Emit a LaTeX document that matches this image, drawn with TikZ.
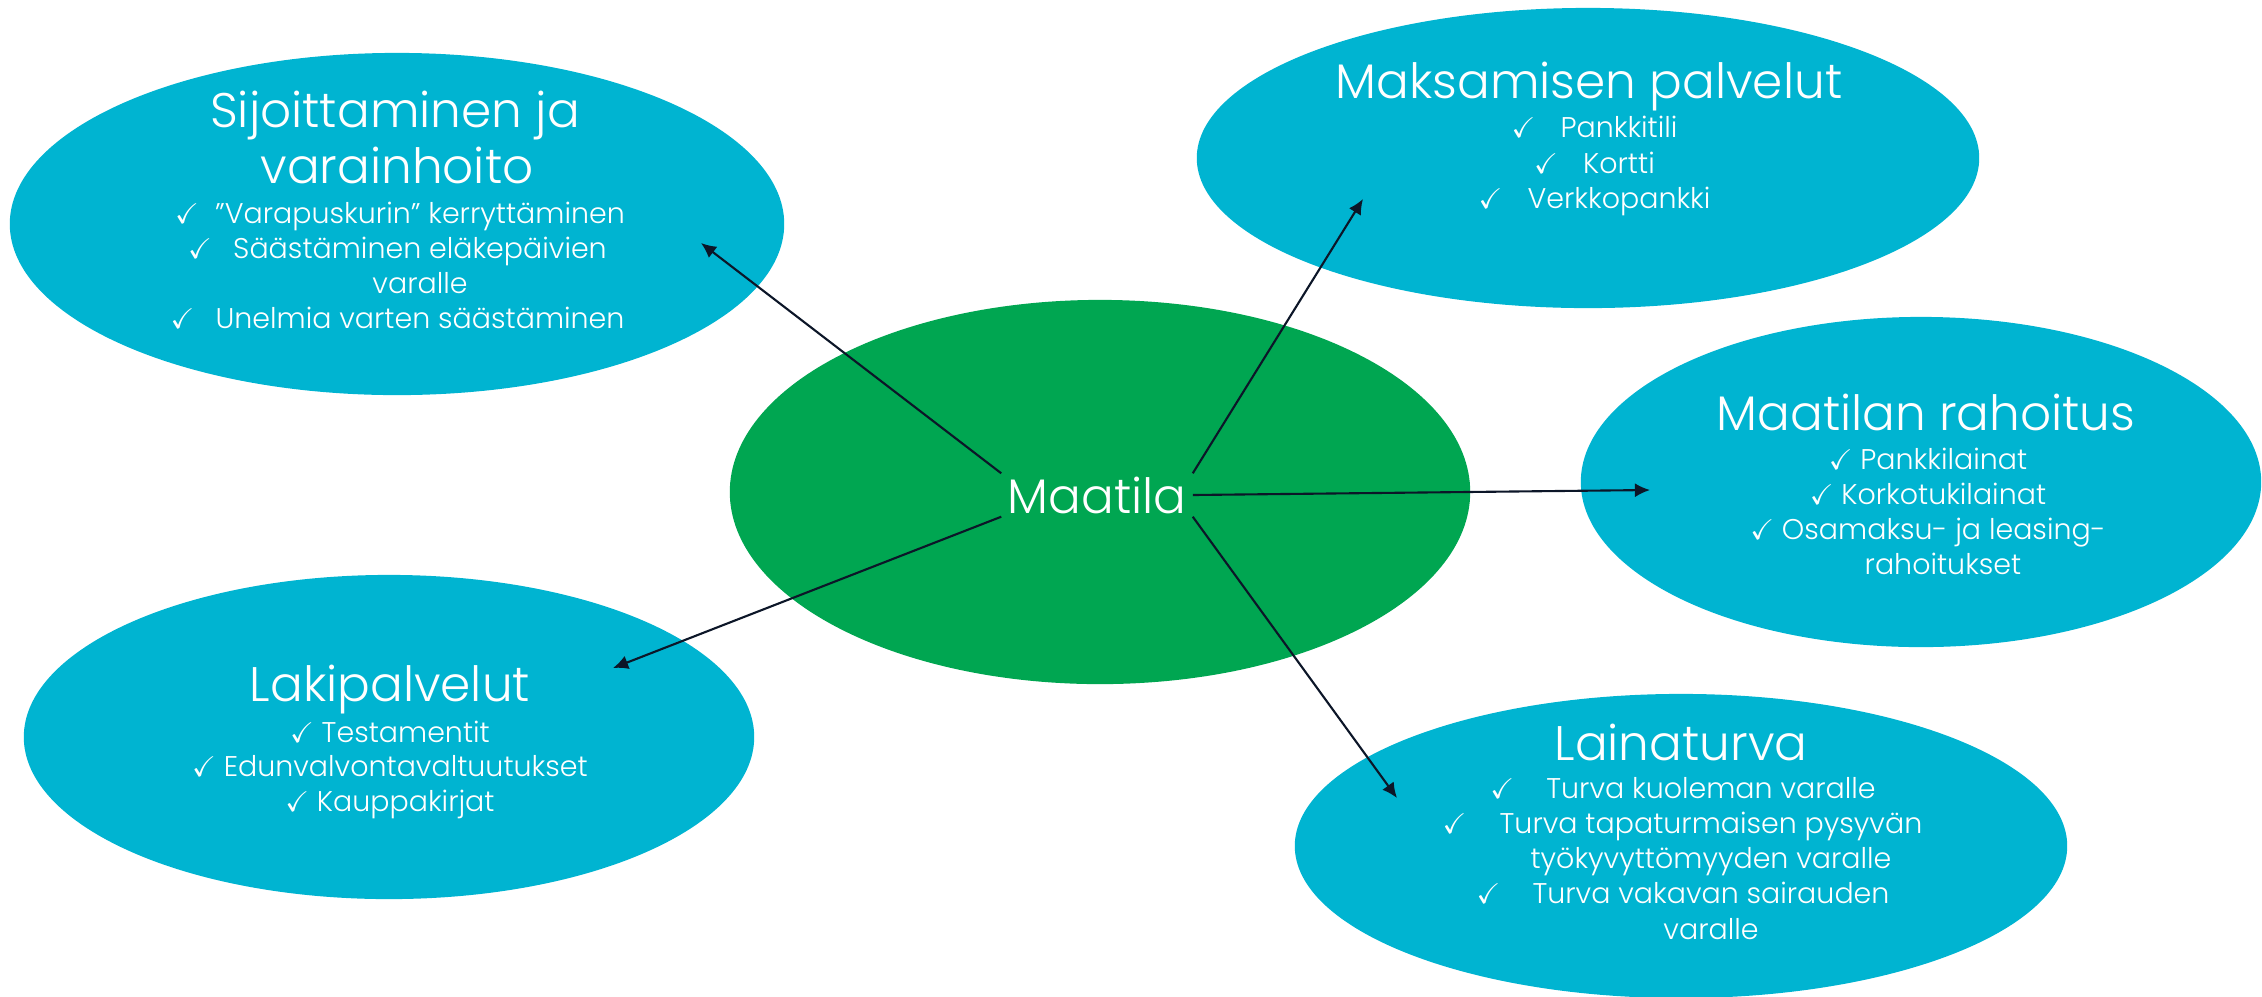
\documentclass[tikz,border=0pt]{standalone}
\usepackage{fontspec}
\usepackage{amssymb}
\setmainfont{Poppins Light}
\usetikzlibrary{arrows.meta,shapes.geometric}
\definecolor{cyanbg}{RGB}{0,180,209}
\definecolor{greenbg}{RGB}{0,166,81}
\definecolor{arrowc}{RGB}{12,22,40}
\newcommand{\hck}[1]{\llap{\makebox[#1][l]{$\checkmark$}}}
\newcommand{\ck}{$\checkmark$\ }
\begin{document}
\begin{tikzpicture}[x=0.01cm,y=-0.01cm,
  bubble/.style={ellipse, fill=cyanbg, inner sep=0pt},
  hub/.style={ellipse, fill=greenbg, inner sep=0pt},
  ttl/.style={anchor=base, text=white, font=\fontsize{13.8}{16}\selectfont, inner sep=0pt},
  itm/.style={anchor=base, text=white, font=\fontsize{8.1}{10}\selectfont, inner sep=0pt},
  conn/.style={draw=arrowc, line width=0.6pt, -{Latex[length=4.3pt,width=4pt]}}]
\useasboundingbox (0,0) rectangle (2262,996);
\clip (0,0) rectangle (2262,996);
% ellipses
\node[bubble, minimum width=7.74cm, minimum height=3.42cm] (sij) at (397,224) {};
\node[bubble, minimum width=7.82cm, minimum height=3.00cm] (mak) at (1588,158) {};
\node[bubble, minimum width=6.80cm, minimum height=3.30cm] (raho) at (1921,482) {};
\node[bubble, minimum width=7.30cm, minimum height=3.24cm] (laki) at (389,737) {};
\node[bubble, minimum width=7.72cm, minimum height=3.04cm] (laina) at (1681,846) {};
\node[hub, minimum width=7.40cm, minimum height=3.84cm] (hubell) at (1100,492) {};
% Sijoittaminen
\node[ttl] (sijt1) at (395,127) {Sijoittaminen ja};
\node[ttl] (sijt2) at (397,183) {varainhoito};
\node[itm] (sij1) at (420,223) {\hck{0.40cm}”Varapuskurin” kerryttäminen};
\node[itm] (sij2) at (420,258) {\hck{0.45cm}Säästäminen eläkepäivien};
\node[itm] (sij3) at (420,293) {varalle};
\node[itm] (sij4) at (420,328) {\hck{0.45cm}Unelmia varten säästäminen};
% Maksamisen palvelut
\node[ttl] (makt) at (1589,98) {Maksamisen palvelut};
\node[itm] (mak1) at (1619,137) {\hck{0.49cm}Pankkitili};
\node[itm] (mak2) at (1619,173) {\hck{0.49cm}Kortti};
\node[itm] (mak3) at (1619,208) {\hck{0.49cm}Verkkopankki};
% Maatilan rahoitus
\node[ttl] (rahot) at (1926,430) {Maatilan rahoitus};
\node[itm] (raho1) at (1928,469) {\ck Pankkilainat};
\node[itm] (raho2) at (1928,504) {\ck Korkotukilainat};
\node[itm] (raho3) at (1928,539) {\ck Osamaksu- ja leasing-};
\node[itm] (raho4) at (1943,574) {rahoitukset};
% Lakipalvelut
\node[ttl] (lakit) at (390,701) {Lakipalvelut};
\node[itm] (laki1) at (390,742) {\ck Testamentit};
\node[itm] (laki2) at (390,776) {\ck Edunvalvontavaltuutukset};
\node[itm] (laki3) at (390,811) {\ck Kauppakirjat};
% Lainaturva
\node[ttl] (lainat) at (1681,760) {Lainaturva};
\node[itm] (laina1) at (1711,798) {\hck{0.56cm}Turva kuoleman varalle};
\node[itm] (laina2) at (1711,833) {\hck{0.57cm}Turva tapaturmaisen pysyvän};
\node[itm] (laina3) at (1711,868) {työkyvyttömyyden varalle};
\node[itm] (laina4) at (1711,903) {\hck{0.56cm}Turva vakavan sairauden};
\node[itm] (laina5) at (1711,939) {varalle};
% hub text
\node[text=white, font=\fontsize{13.8}{16}\selectfont, inner sep=0pt, minimum width=1.9cm, minimum height=0.42cm] (m) at (1097,495) {Maatila};
% targets
\coordinate (t1) at (701,243);
\coordinate (t2) at (1363,199);
\coordinate (t3) at (1650,490);
\coordinate (t4) at (613,668);
\coordinate (t5) at (1397,798);
\draw[conn] (m.north west) -- (t1);
\draw[conn] (m.north east) -- (t2);
\draw[conn] (m.east) -- (t3);
\draw[conn] (m.south west) -- (t4);
\draw[conn] (m.south east) -- (t5);
\end{tikzpicture}
\end{document}
